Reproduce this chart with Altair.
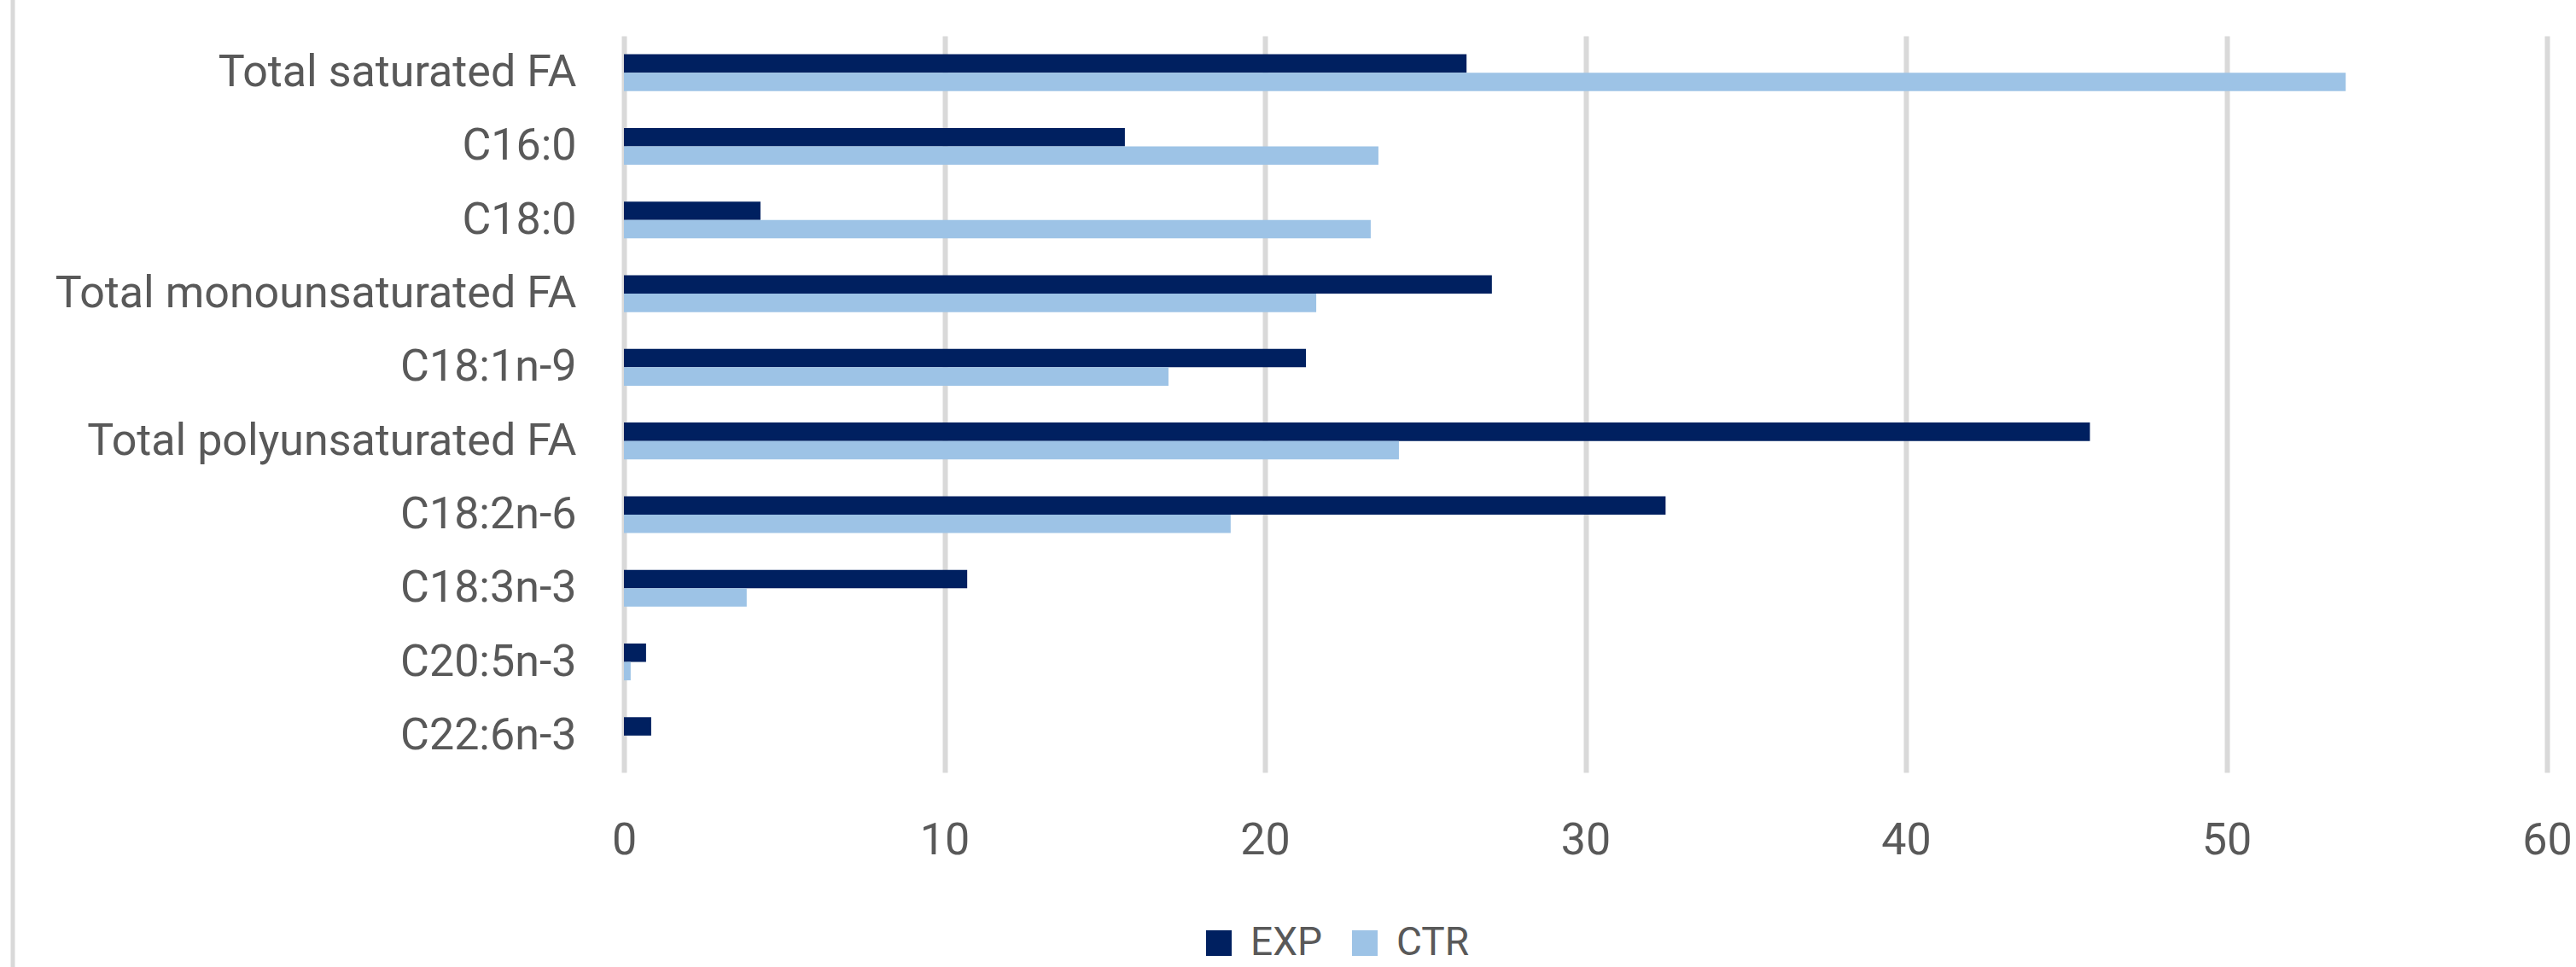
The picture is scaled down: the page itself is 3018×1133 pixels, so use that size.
import altair as alt
import pandas as pd

categories = [
    "Total saturated FA", "C16:0", "C18:0", "Total monounsaturated FA",
    "C18:1n-9", "Total polyunsaturated FA", "C18:2n-6", "C18:3n-3",
    "C20:5n-3", "C22:6n-3",
]
exp_values = [26.29, 15.63, 4.26, 27.08, 21.28, 45.74, 32.5, 10.71, 0.69, 0.85]
ctr_values = [53.72, 23.54, 23.30, 21.60, 16.99, 24.18, 18.93, 3.83, 0.21, 0.0]
groups = ["EXP", "CTR"]
colors = ["#002060", "#9DC3E6"]
x_ticks = [0, 10, 20, 30, 40, 50, 60]

rows = []
for c, e, t in zip(categories, exp_values, ctr_values):
    rows.append({"fa": c, "group": "EXP", "value": e})
    rows.append({"fa": c, "group": "CTR", "value": t})
df = pd.DataFrame(rows)

FONT = "Roboto"
TXT = "#595959"
GRID = "#d9d9d9"

bars = alt.Chart(df).mark_bar().encode(
    x=alt.X(
        "value:Q",
        scale=alt.Scale(domain=[0, 60], nice=False),
        axis=alt.Axis(
            values=x_ticks, title=None, grid=True, gridColor=GRID, gridWidth=6,
            domain=False, ticks=False, labelFontSize=52, labelColor=TXT,
            labelFont=FONT, labelPadding=54, labelFlush=False, labelOverlap=False,
        ),
    ),
    y=alt.Y(
        "fa:N", sort=categories,
        scale=alt.Scale(paddingInner=0.5, paddingOuter=0.25),
        axis=alt.Axis(
            title=None, domain=False, ticks=False, grid=False, labelFontSize=52,
            labelColor=TXT, labelFont=FONT, labelPadding=56, labelLimit=1000,
        ),
    ),
    yOffset=alt.YOffset("group:N", sort=groups,
                        scale=alt.Scale(paddingInner=0, paddingOuter=0)),
    color=alt.Color(
        "group:N", sort=groups,
        scale=alt.Scale(domain=groups, range=colors),
        legend=alt.Legend(
            title=None, orient="none", legendX=674, legendY=1040,
            direction="horizontal", symbolType="square", symbolSize=900,
            symbolStrokeWidth=0, symbolOpacity=1, labelFontSize=46,
            labelColor=TXT, labelFont=FONT, labelOffset=14, columnPadding=26,
            padding=0,
        ),
    ),
)

border = alt.Chart(pd.DataFrame({"a": [0]})).mark_rule(
    color=GRID, strokeWidth=5
).encode(x=alt.value(-716), y=alt.value(-42), y2=alt.value(1091))

chart = alt.layer(bars, border).properties(
    width=2253, height=863,
    padding={"left": 731, "top": 42, "right": 34, "bottom": 228},
    autosize=alt.AutoSizeParams(type="none"),
    background="white",
).configure_view(stroke=None)

chart.save("out.html", embed_options={"renderer": "svg", "actions": False})
